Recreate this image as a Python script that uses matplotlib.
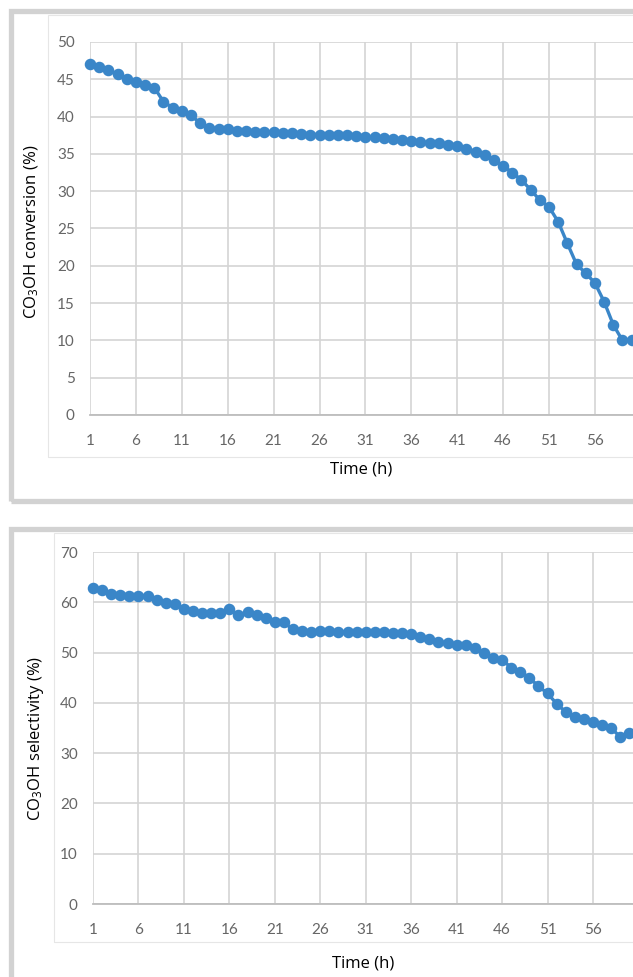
import numpy as np
import matplotlib
matplotlib.use("Agg")
import matplotlib.pyplot as plt
from matplotlib.patches import Rectangle

# hours 1..60
hours = list(range(1, 61))

conversion = [47.0, 46.6, 46.2, 45.7, 45.1, 44.6, 44.3, 43.9, 42.0, 41.2,
              40.7, 40.2, 39.1, 38.5, 38.4, 38.3, 38.1, 38.1, 38.0, 38.0,
              37.9, 37.8, 37.8, 37.7, 37.6, 37.6, 37.5, 37.5, 37.5, 37.4,
              37.3, 37.2, 37.1, 37.0, 36.9, 36.7, 36.6, 36.5, 36.4, 36.2,
              36.0, 35.7, 35.3, 34.8, 34.2, 33.4, 32.5, 31.5, 30.2, 28.8,
              27.9, 25.9, 23.0, 20.2, 19.0, 17.7, 15.2, 12.1, 10.0, 10.0]

selectivity = [62.8, 62.4, 61.6, 61.4, 61.3, 61.3, 61.3, 60.4, 59.8, 59.6,
               58.7, 58.2, 57.9, 57.8, 57.9, 58.6, 57.5, 58.0, 57.5, 56.9,
               56.1, 56.0, 54.6, 54.2, 54.1, 54.2, 54.3, 54.1, 54.1, 54.0,
               54.0, 54.0, 54.0, 53.9, 53.8, 53.6, 53.0, 52.6, 52.2, 51.9,
               51.5, 51.5, 51.0, 50.0, 49.0, 48.6, 47.0, 46.2, 45.0, 43.3,
               41.9, 39.8, 38.2, 37.2, 36.8, 36.2, 35.6, 35.0, 33.2, 34.0]

x_ticks = list(range(1, 60, 5))

plt.rcParams['font.family'] = ['Open Sans', 'DejaVu Sans']
plt.rcParams['mathtext.default'] = 'regular'

W, H = 633, 977
fig = plt.figure(figsize=(W / 100, H / 100), dpi=100)
fig.patch.set_facecolor('white')

blue = '#3a86c8'
grid_c = '#d4d4d4'
tick_c = '#666666'


def px_box(left, top, right, bottom):
    # pixel box -> figure fraction [l, b, w, h]
    return [left / W, 1 - bottom / H, (right - left) / W, (bottom - top) / H]


def frame(left, top, right, bottom, color, lw):
    l, b, w, h = px_box(left, top, right, bottom)
    fig.patches.append(Rectangle((l, b), w, h, transform=fig.transFigure,
                                 facecolor='none', edgecolor=color, lw=lw))


# outer gray frames and faint chart-area borders
frame(10.5, 10.5, 660, 500.5, '#d2d2d2', 3.8)
frame(48, 15, 660, 457, '#e6e6e6', 0.8)
frame(10.5, 528.5, 660, 1000, '#d2d2d2', 3.8)
frame(54, 533, 660, 942, '#e6e6e6', 0.8)


def panel(box, y, ylim, ystep, xmax, ylabel, ylab_x, ylab_y, xlab_y):
    ax = fig.add_axes(box)
    ax.plot(hours, y, color=blue, lw=2.4, marker='o', ms=7.3,
            mec=blue, mfc=blue, clip_on=False, zorder=3)
    ax.set_xlim(1, xmax)
    ax.set_ylim(*ylim)
    ax.set_xticks(x_ticks)
    ax.set_yticks(np.arange(ylim[0], ylim[1] + 0.1, ystep))
    ax.grid(True, color=grid_c, lw=1.2)
    ax.set_axisbelow(True)
    for s in ['top', 'right', 'left']:
        ax.spines[s].set_visible(False)
    ax.spines['bottom'].set_color('#bdbdbd')
    ax.spines['bottom'].set_linewidth(1.3)
    ax.tick_params(length=0, labelsize=11, colors=tick_c)
    ax.tick_params(axis='x', pad=14)
    ax.tick_params(axis='y', pad=11)
    for lab in ax.get_xticklabels() + ax.get_yticklabels():
        lab.set_family(['Lato', 'DejaVu Sans'])
    ax.set_xlabel('Time (h)', fontsize=12, va='center')
    ax.xaxis.set_label_coords(0.5, xlab_y)
    ax.set_ylabel(ylabel, fontsize=12, va='center')
    ax.yaxis.set_label_coords(ylab_x, ylab_y)
    return ax


panel(px_box(90, 42, 633, 415), conversion, (0, 50), 5, 60.15,
      'CO$_3$OH conversion (%)', -0.107, 0.49, -0.147)
panel(px_box(93, 552, 633, 904), selectivity, (0, 70), 10, 60.4,
      'CO$_3$OH selectivity (%)', -0.105, 0.47, -0.168)

fig.savefig('out.png', dpi=100)
